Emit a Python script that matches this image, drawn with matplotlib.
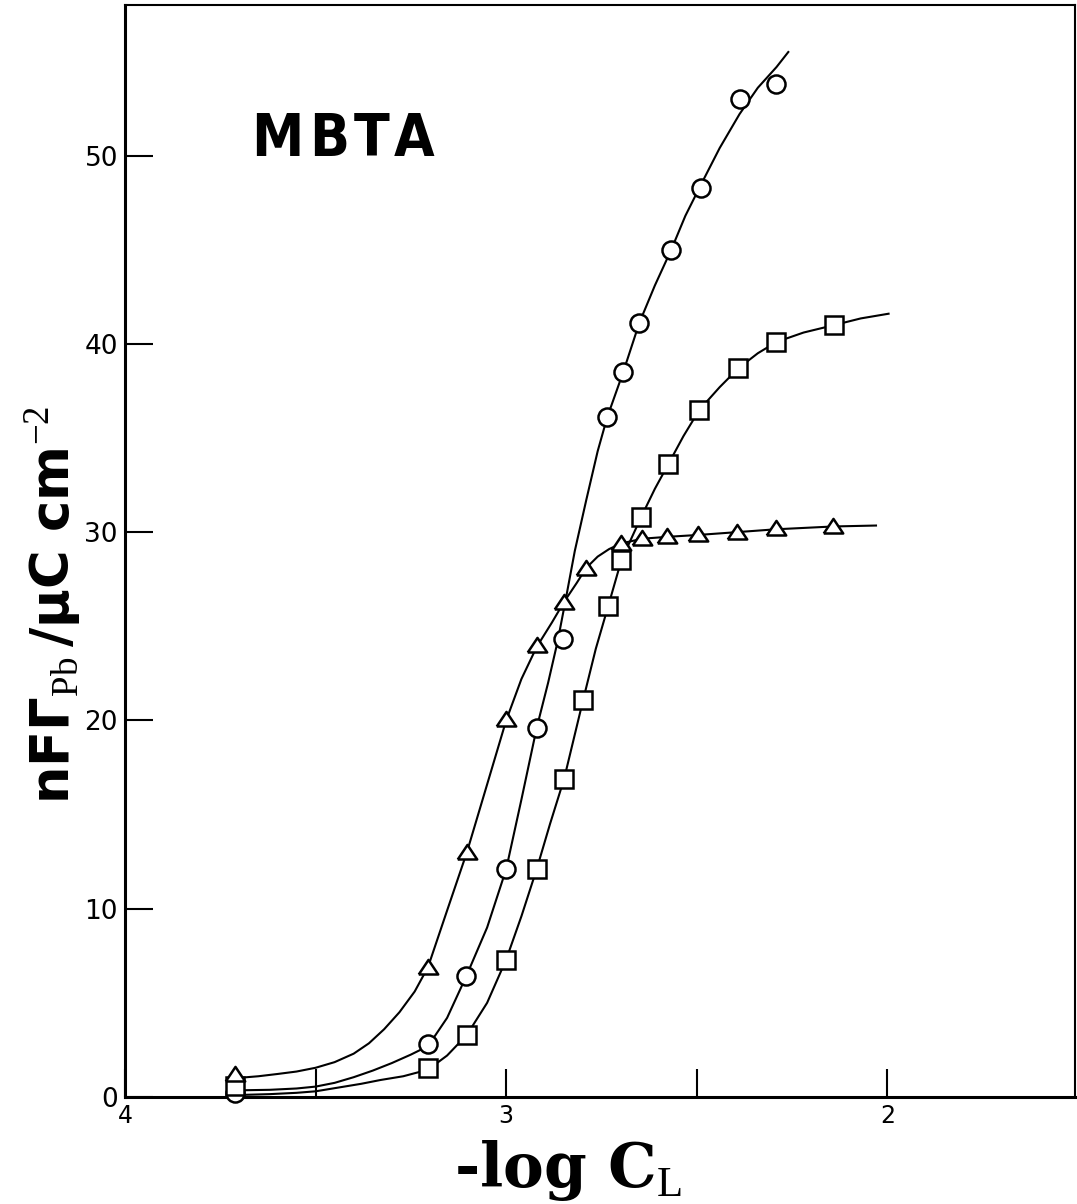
import matplotlib
matplotlib.use("Agg")
from matplotlib import pyplot as plt
import matplotlib.font_manager as fm

plt.rcParams['mathtext.fontset'] = 'custom'
plt.rcParams['mathtext.rm'] = 'Liberation Serif'
plt.rcParams['mathtext.bf'] = 'DejaVu Sans:bold'
plt.rcParams['mathtext.it'] = 'DejaVu Sans:italic:bold'

########## measured points ##########
circ_x = [3.71, 3.205, 3.105, 3.0, 2.92, 2.85, 2.735, 2.693, 2.651, 2.567, 2.488, 2.388, 2.291]
circ_y = [0.2, 2.8, 6.4, 12.1, 19.6, 24.3, 36.1, 38.5, 41.1, 45.0, 48.3, 53.0, 53.8]

sq_x = [3.71, 3.205, 3.103, 3.0, 2.92, 2.848, 2.798, 2.732, 2.698, 2.646, 2.575, 2.493, 2.391, 2.291, 2.139]
sq_y = [0.6, 1.55, 3.3, 7.3, 12.1, 16.9, 21.1, 26.1, 28.5, 30.8, 33.6, 36.5, 38.7, 40.1, 41.0]

tri_x = [3.71, 3.205, 3.103, 3.0, 2.92, 2.848, 2.79, 2.698, 2.643, 2.577, 2.496, 2.394, 2.293, 2.142]
tri_y = [1.2, 6.9, 13.0, 20.1, 24.0, 26.3, 28.1, 29.4, 29.7, 29.8, 29.9, 30.0, 30.2, 30.3]

########## hand drawn curves ##########
circ_cx = [3.71, 3.62, 3.55, 3.50, 3.45, 3.40, 3.35, 3.30, 3.25, 3.205, 3.155, 3.105, 3.05, 3.0,
           2.96, 2.92, 2.89, 2.865, 2.845, 2.82, 2.79, 2.76, 2.735, 2.693, 2.651, 2.61, 2.567,
           2.53, 2.488, 2.44, 2.388, 2.34, 2.291, 2.26]
circ_cy = [0.35, 0.38, 0.45, 0.55, 0.75, 1.05, 1.4, 1.8, 2.25, 2.7, 4.2, 6.4, 9.0, 12.1,
           15.8, 19.6, 22.0, 24.2, 26.3, 29.0, 31.7, 34.3, 36.1, 38.5, 41.1, 43.1, 45.0,
           46.8, 48.5, 50.4, 52.2, 53.6, 54.7, 55.5]

sq_cx = [3.71, 3.62, 3.55, 3.50, 3.44, 3.38, 3.33, 3.27, 3.205, 3.155, 3.103, 3.05, 3.0, 2.96,
         2.92, 2.885, 2.848, 2.798, 2.765, 2.732, 2.698, 2.646, 2.61, 2.575, 2.535, 2.493, 2.44,
         2.391, 2.34, 2.291, 2.22, 2.139, 2.07, 1.997]
sq_cy = [0.1, 0.15, 0.22, 0.3, 0.5, 0.7, 0.9, 1.1, 1.45, 2.2, 3.3, 5.0, 7.3, 9.6,
         12.1, 14.5, 16.9, 21.1, 23.8, 26.1, 28.5, 30.8, 32.3, 33.6, 35.1, 36.5, 37.7,
         38.7, 39.5, 40.1, 40.6, 41.0, 41.35, 41.6]

tri_cx = [3.71, 3.65, 3.60, 3.55, 3.50, 3.45, 3.40, 3.36, 3.32, 3.28, 3.24, 3.205, 3.155, 3.103,
          3.05, 3.0, 2.96, 2.92, 2.88, 2.848, 2.815, 2.79, 2.76, 2.73, 2.698, 2.643, 2.577, 2.496,
          2.394, 2.293, 2.142, 2.03]
tri_cy = [1.0, 1.1, 1.22, 1.35, 1.55, 1.85, 2.3, 2.85, 3.6, 4.5, 5.6, 6.9, 9.9, 13.0,
          16.6, 20.0, 22.2, 23.9, 25.2, 26.3, 27.3, 28.1, 28.7, 29.1, 29.4, 29.65, 29.75, 29.85,
          30.0, 30.15, 30.3, 30.35]

xticks = [4, 3, 2]
xticklabels = ['4', '3', '2']
xminor = [3.5, 2.5]
yticks = [0, 10, 20, 30, 40, 50]

title_letters = ['M', 'B', 'T', 'A']
title_x = [3.601, 3.465, 3.352, 3.241]   # letter centres, spread out like the original

# flattened triangle marker
tri_marker = [(-1, -0.72), (1, -0.72), (0, 0.78), (-1, -0.72)]


def condensed_bold():
    # look for any narrow/condensed bold face on the system
    best = None
    for f in fm.fontManager.ttflist:
        tag = (f.name + ' ' + f.fname).lower()
        if 'italic' in tag or 'oblique' in tag or 'extra' in tag or 'semi' in tag:
            continue
        if ('condensed' in tag or 'narrow' in tag) and 'bold' in tag:
            best = f.fname
            break
    if best is None:
        return fm.FontProperties(family='DejaVu Sans', weight='bold')
    return fm.FontProperties(fname=best)


fig = plt.figure(figsize=(10.77, 12.04), dpi=100)
ax = fig.add_axes([0.116, 0.0889, 0.8825, 0.907])

for cx, cy in [(circ_cx, circ_cy), (sq_cx, sq_cy), (tri_cx, tri_cy)]:
    ax.plot(cx, cy, '-', color='black', lw=1.5, zorder=2)

mk = dict(linestyle='none', mfc='white', mec='black', mew=1.8, zorder=3, clip_on=False)
ax.plot(circ_x, circ_y, marker='o', ms=13, **mk)
ax.plot(sq_x, sq_y, marker='s', ms=12.5, **mk)
ax.plot(tri_x, tri_y, marker=tri_marker, ms=14, **mk)

ax.set_xlim(4, 1.507)
ax.set_ylim(0, 58)
ax.set_xticks(xticks)
ax.set_xticklabels(xticklabels)
ax.set_xticks(xminor, minor=True)
ax.set_yticks(yticks)
ax.tick_params(which='both', direction='in', length=20, width=1.5, top=False, right=False)
ax.tick_params(axis='x', labelsize=17, pad=5)
ax.tick_params(axis='y', labelsize=19, pad=5)

for s in ['left', 'bottom']:
    ax.spines[s].set_linewidth(2.2)
for s in ['top', 'right']:
    ax.spines[s].set_linewidth(1.5)

fp = condensed_bold()
fp.set_size(42)
for ch, xc in zip(title_letters, title_x):
    ax.text(xc, 50, ch, fontproperties=fp, ha='center', va='baseline')

fig.text(0.527, 0.014, r'-log C$_{\mathrm{L}}$', fontsize=44, family='DejaVu Serif',
         fontweight='bold', ha='center', va='baseline')
fig.text(0.049, 0.4975, r'$\mathbf{nF\Gamma}_{\mathrm{Pb}}\,\mathbf{/\mu C\ cm}^{\mathrm{-2}}$',
         fontsize=38, rotation=90, ha='center', va='center')

plt.savefig('out.png', dpi=100)
